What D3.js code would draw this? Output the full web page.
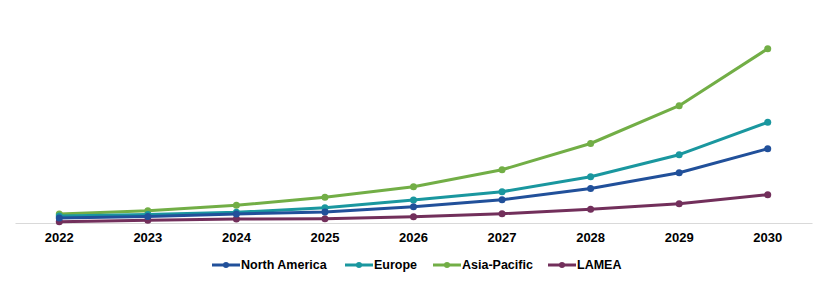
<!DOCTYPE html>
<html>
<head>
<meta charset="utf-8">
<script src="https://cdn.jsdelivr.net/npm/d3@7"></script>
<style>
  body { margin: 0; background: #fff; }
  svg { display: block; font-family: "Liberation Sans", Arial, sans-serif; }
</style>
</head>
<body>
<svg id="chart"></svg>
<script>
// categories and values (arbitrary units)
const years = ["2022", "2023", "2024", "2025", "2026", "2027", "2028", "2029", "2030"];
const seriesNames = ["North America", "Europe", "Asia-Pacific", "LAMEA"];
const northAmerica = [5, 6.5, 9, 11, 16.3, 23.3, 34.5, 50.3, 74.3];
const europe = [7, 8.5, 10.7, 15.3, 23, 31.3, 46.3, 68.3, 100.7];
const asiaPacific = [9, 12.3, 17.7, 25.7, 36.3, 53.3, 79.5, 117.3, 174.3];
const lamea = [1.3, 2.7, 4, 4.2, 6.3, 9.3, 13.7, 19.3, 28.3];
const colors = ["#21509a", "#1a979f", "#72ae46", "#722f5b"];

const series = [northAmerica, europe, asiaPacific, lamea].map((v, i) => ({
  name: seriesNames[i],
  color: colors[i],
  values: v.map((d, j) => ({ year: years[j], value: d }))
}));

const width = 827, height = 285;
const margin = { top: 23, right: 15, bottom: 62, left: 15 };

const svg = d3.select("#chart").attr("width", width).attr("height", height);

const x = d3.scaleBand()
  .domain(years)
  .range([margin.left, width - margin.right]);

const y = d3.scaleLinear()
  .domain([0, 200])
  .range([height - margin.bottom, margin.top]);

// x axis
const xAxis = svg.append("g")
  .attr("transform", `translate(0,${height - margin.bottom})`)
  .call(d3.axisBottom(x).tickSize(0).tickPadding(10));
xAxis.select(".domain").attr("stroke", "#d9d9d9").attr("stroke-width", 1);
xAxis.selectAll("text")
  .attr("fill", "#000")
  .style("font-size", "13px")
  .style("font-weight", "bold");

const line = d3.line()
  .x(d => x(d.year) + x.bandwidth() / 2)
  .y(d => y(d.value));

// draw LAMEA under the others, like the original
const drawOrder = [3, 2, 1, 0];
drawOrder.forEach(i => {
  const s = series[i];
  const g = svg.append("g");
  g.append("path")
    .attr("d", line(s.values))
    .attr("fill", "none")
    .attr("stroke", s.color)
    .attr("stroke-width", 3)
    .attr("stroke-linejoin", "round");
  g.selectAll("circle")
    .data(s.values)
    .enter()
    .append("circle")
    .attr("cx", d => x(d.year) + x.bandwidth() / 2)
    .attr("cy", d => y(d.value))
    .attr("r", 3.5)
    .attr("fill", s.color);
});

// legend
const legendY = 265;
const legendX = [212, 345, 433, 548];
const legend = svg.append("g");
series.forEach((s, i) => {
  const item = legend.append("g").attr("transform", `translate(${legendX[i]},${legendY})`);
  item.append("line")
    .attr("x1", 0).attr("x2", 28)
    .attr("stroke", s.color)
    .attr("stroke-width", 3);
  item.append("circle")
    .attr("cx", 14)
    .attr("r", 3)
    .attr("fill", s.color);
  item.append("text")
    .attr("x", 29)
    .attr("dy", "0.35em")
    .style("font-size", "12.5px")
    .style("font-weight", "bold")
    .text(s.name);
});
</script>
</body>
</html>
